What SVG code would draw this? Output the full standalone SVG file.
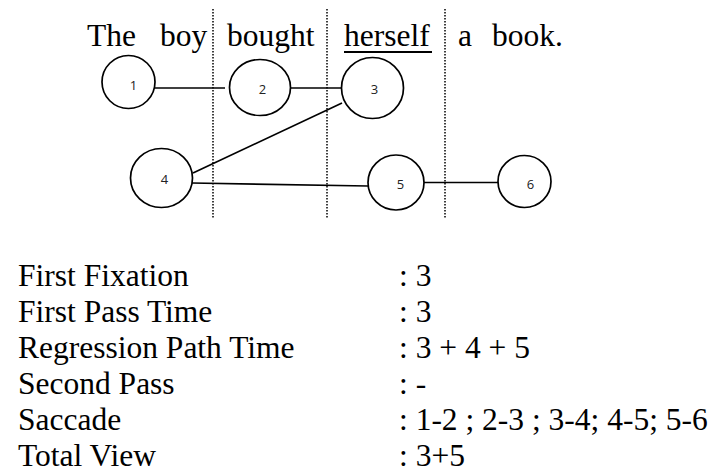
<svg xmlns="http://www.w3.org/2000/svg" width="713" height="474" viewBox="0 0 713 474">
<style>
.t{font-family:"Liberation Serif","Times New Roman",serif;font-size:31.5px;fill:#000}
.n{font-family:"Open Sans","Liberation Sans",sans-serif;font-size:13px;fill:#222;text-anchor:middle}
.c{fill:#fff;stroke:#000;stroke-width:1.7}
.e{stroke:#000;stroke-width:1.7;fill:none}
.d{stroke:#000;stroke-width:1.5;stroke-dasharray:1.5 1.5}
</style>
<rect width="713" height="474" fill="#fff"/>
<g id="sentence">
<text class="t" x="87" y="46">The</text>
<text class="t" x="160" y="46">boy</text>
<text class="t" x="227" y="46">bought</text>
<text class="t" x="344" y="46">herself</text>
<rect x="344" y="51" width="88" height="2" fill="#000"/>
<text class="t" x="458" y="46">a</text>
<text class="t" x="492" y="46">book.</text>
</g>
<g id="dividers">
<line class="d" x1="213" y1="9" x2="213" y2="218"/>
<line class="d" x1="327" y1="9" x2="327" y2="218"/>
<line class="d" x1="445" y1="9" x2="445" y2="218"/>
</g>
<g id="connectors">
<line class="e" x1="154" y1="88" x2="225" y2="88"/>
<line class="e" x1="291" y1="88" x2="342" y2="88"/>
<line class="e" x1="342" y1="103" x2="193" y2="173"/>
<line class="e" x1="192" y1="183" x2="368" y2="186"/>
<line class="e" x1="424" y1="182.5" x2="498" y2="182.5"/>
</g>
<g id="node1"><ellipse class="c" cx="128.5" cy="82" rx="26.5" ry="26.5"/><text class="n" x="133.5" y="90">1</text></g>
<g id="node2"><ellipse class="c" cx="260" cy="87.5" rx="30.5" ry="28"/><text class="n" x="262.5" y="93.5">2</text></g>
<g id="node3"><ellipse class="c" cx="372.5" cy="88" rx="31" ry="30.5"/><text class="n" x="374.5" y="93.5">3</text></g>
<g id="node4"><ellipse class="c" cx="161.5" cy="178" rx="31" ry="29.5"/><text class="n" x="164.5" y="184">4</text></g>
<g id="node5"><ellipse class="c" cx="396" cy="182.5" rx="28" ry="27.5"/><text class="n" x="400.5" y="189">5</text></g>
<g id="node6"><ellipse class="c" cx="524.5" cy="181.5" rx="26.5" ry="26"/><text class="n" x="530.5" y="188.5">6</text></g>
<g id="measures">
<text class="t" x="18" y="286">First Fixation</text><text class="t" x="399" y="286">: 3</text>
<text class="t" x="18" y="322">First Pass Time</text><text class="t" x="399" y="322">: 3</text>
<text class="t" x="18" y="358">Regression Path Time</text><text class="t" x="399" y="358">: 3 + 4 + 5</text>
<text class="t" x="18" y="394">Second Pass</text><text class="t" x="399" y="394">: -</text>
<text class="t" x="18" y="430">Saccade</text><text class="t" x="399" y="430">: 1-2 ; 2-3 ; 3-4; 4-5; 5-6</text>
<text class="t" x="18" y="466">Total View</text><text class="t" x="399" y="466">: 3+5</text>
</g>
</svg>
